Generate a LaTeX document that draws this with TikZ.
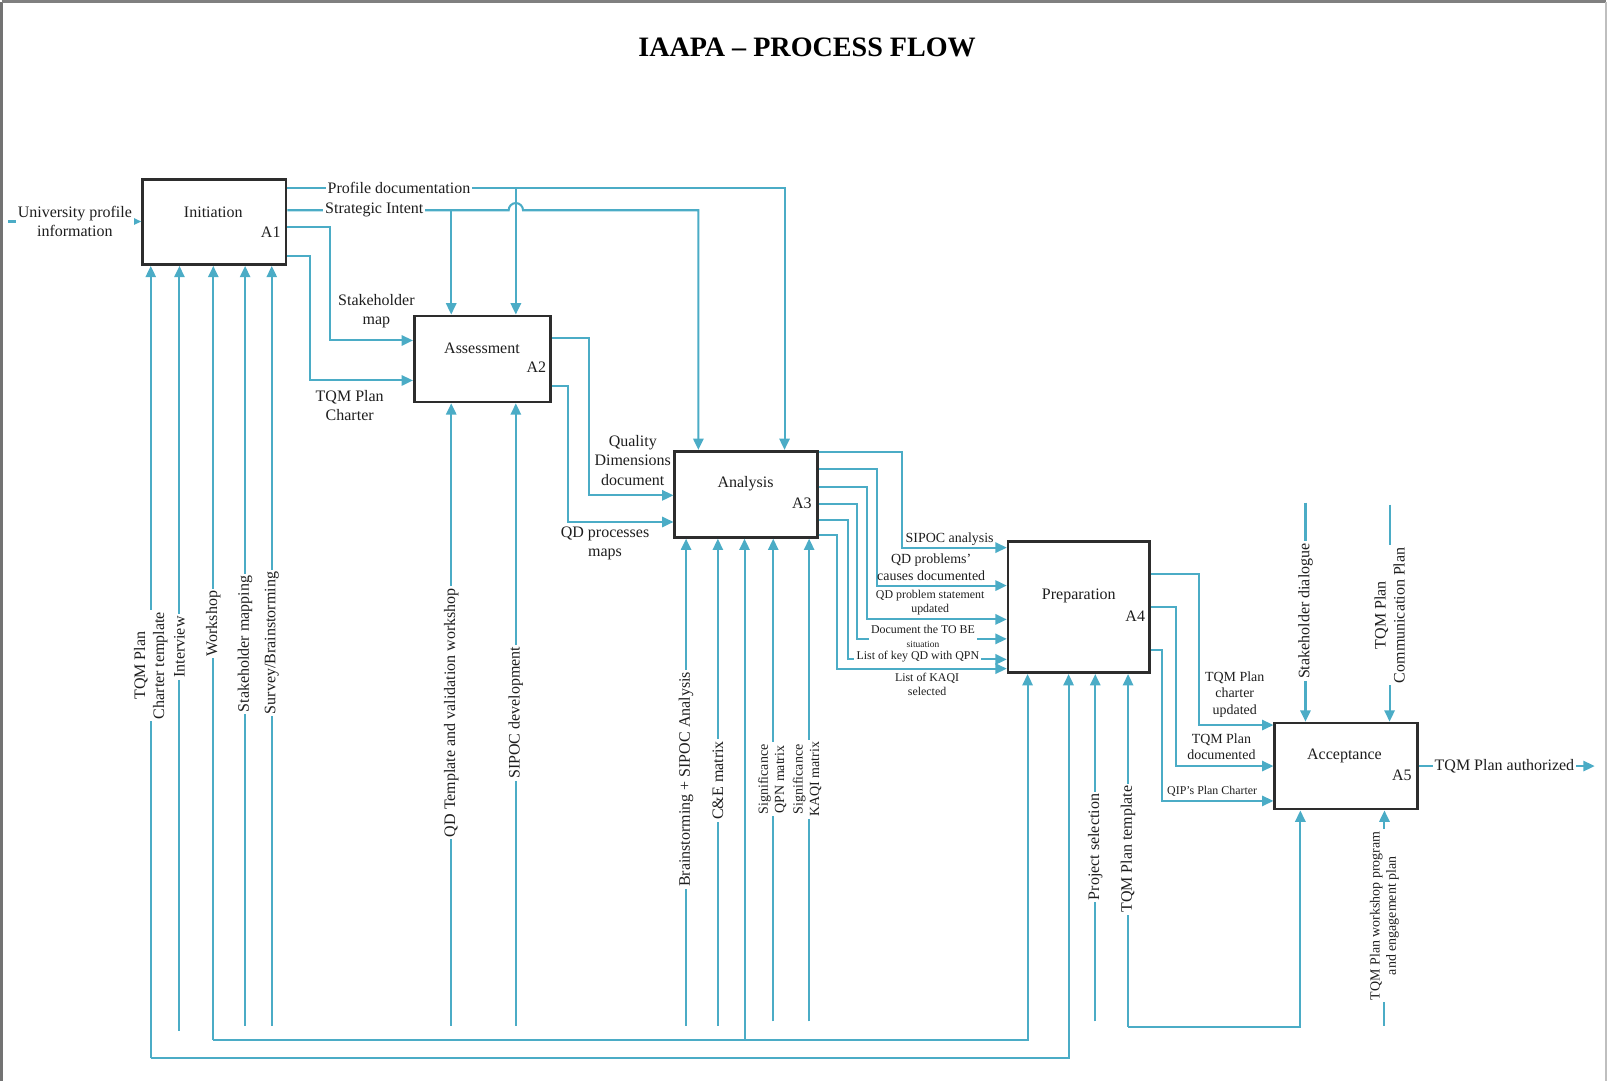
\documentclass[tikz,border=0pt]{standalone}
\usepackage{fontspec}
\setmainfont{Liberation Serif}
\usetikzlibrary{arrows.meta}
\definecolor{flowc}{RGB}{75,172,198}
\definecolor{boxc}{RGB}{45,45,45}
\definecolor{inkc}{RGB}{30,30,30}

\begin{document}
\begin{tikzpicture}[x=0.5pt,y=-0.5pt,
  flow/.style={draw=flowc, line width=1pt},
  arr/.style={flow, -{Triangle[width=5pt,length=5.5pt]}},
  proc/.style={draw=boxc, line width=1.3pt, fill=white, inner sep=0pt},
  txt/.style={text=inkc, align=center, inner sep=1pt, font=\fontsize{7.8}{9.3}\selectfont},
  ontxt/.style={txt, fill=white},
  small/.style={font=\fontsize{6.8}{8}\selectfont},
  tiny/.style={font=\fontsize{5.8}{6.8}\selectfont},
  vert/.style={rotate=90},
]
\useasboundingbox (0,0) rectangle (1568,1054);

% page frame
\draw[draw=black!55, line width=1.2pt] (1.5,1054) -- (1.5,1.5);
\draw[draw=black!50, line width=1.2pt] (1.5,1.5) -- (1566,1.5);
\draw[draw=black!25, line width=1pt] (1566,1.5) -- (1566,1054);

% title
\node[text=black, font=\fontsize{13.7}{15}\selectfont\bfseries] (title) at (787,46) {IAAPA – PROCESS FLOW};

% activity boxes
\node[proc, minimum width=70pt, minimum height=41.5pt] (a1) at (209,216.5) {};
\node[proc, minimum width=66.5pt, minimum height=42pt] (a2) at (470.5,350) {};
\node[proc, minimum width=69.5pt, minimum height=42pt] (a3) at (727.5,482) {};
\node[proc, minimum width=69pt, minimum height=64pt] (a4) at (1052,592) {};
\node[proc, minimum width=69.5pt, minimum height=42pt] (a5) at (1312.5,747) {};

\node[txt] (t1) at (208,207) {Initiation};   \node[txt] (n1) at (264,226) {A1};
\node[txt] (t2) at (470,340) {Assessment};   \node[txt] (n2) at (523,358) {A2};
\node[txt] (t3) at (727,472) {Analysis};     \node[txt] (n3) at (782,491) {A3};
\node[txt] (t4) at (1052,581) {Preparation}; \node[txt] (n4) at (1107,601) {A4};
\node[txt] (t5) at (1311,737) {Acceptance};  \node[txt] (n5) at (1367,756) {A5};

% ---------- A1 ----------
\coordinate (uin) at (8,216);
\draw[arr] (uin) -- (a1.west |- uin);

% outputs of A1
\coordinate (pd) at (503,183);
\draw[arr] (a1.east |- pd) -| (a3.north -| 765,0);
\draw[arr] (pd) -- (a2.north -| pd);

\coordinate (si) at (440,205);
\draw[arr] (a1.east |- si) -- (496,205) arc[start angle=180, end angle=0, radius=3.5pt]
  -- (681,205) -- (a3.north -| 681,0);
\draw[arr] (si) -- (a2.north -| si);

\draw[arr] (a1.east |- 0,221) -| (322,332) -- (a2.west |- 0,332);
\draw[arr] (a1.east |- 0,250) -| (302,371) -- (a2.west |- 0,371);

% mechanisms of A1
\coordinate (m-tpl) at (147,1032);
\draw[arr] (m-tpl) -- (a1.south -| m-tpl);
\draw[arr] (m-tpl) -| (a4.south -| 1042,0);

\coordinate (m-int) at (175,1005);
\draw[arr] (m-int) -- (a1.south -| m-int);

\coordinate (m-ws) at (208,1014);
\coordinate (m-ws3) at (726,1014);
\draw[arr] (m-ws) -- (a1.south -| m-ws);
\draw[arr] (m-ws) -| (a4.south -| 1002,0);
\draw[arr] (m-ws3) -- (a3.south -| m-ws3);

\coordinate (m-smap) at (239,1000);
\draw[arr] (m-smap) -- (a1.south -| m-smap);
\coordinate (m-sur) at (265,1000);
\draw[arr] (m-sur) -- (a1.south -| m-sur);

% ---------- A2 ----------
\coordinate (m-qdt) at (440,1000);
\draw[arr] (m-qdt) -- (a2.south -| m-qdt);
\coordinate (m-sip) at (503,1000);
\draw[arr] (m-sip) -- (a2.south -| m-sip);

\draw[arr] (a2.east |- 0,330) -| (574,483) -- (a3.west |- 0,483);
\draw[arr] (a2.east |- 0,376) -| (554,509) -- (a3.west |- 0,509);

% ---------- A3 ----------
\coordinate (m-bs) at (669,1000);
\draw[arr] (m-bs) -- (a3.south -| m-bs);
\coordinate (m-ce) at (700,1000);
\draw[arr] (m-ce) -- (a3.south -| m-ce);
\coordinate (m-qpn) at (754,996);
\draw[arr] (m-qpn) -- (a3.south -| m-qpn);
\coordinate (m-kaqi) at (789,996);
\draw[arr] (m-kaqi) -- (a3.south -| m-kaqi);

\draw[arr] (a3.east |- 0,441) -| (880,534) -- (a4.west |- 0,534);
\draw[arr] (a3.east |- 0,457) -| (855,571) -- (a4.west |- 0,571);
\draw[arr] (a3.east |- 0,475) -| (845,604) -- (a4.west |- 0,604);
\draw[arr] (a3.east |- 0,491) -| (836,623) -- (a4.west |- 0,623);
\draw[arr] (a3.east |- 0,507) -| (827,643) -- (a4.west |- 0,643);
\draw[arr] (a3.east |- 0,522) -| (816,652) -- (a4.west |- 0,652);

% ---------- A4 ----------
\coordinate (m-ps) at (1068,996);
\draw[arr] (m-ps) -- (a4.south -| m-ps);
\coordinate (m-tt) at (1100,1001);
\draw[arr] (m-tt) -- (a4.south -| m-tt);
\draw[arr] (m-tt) -| (a5.south -| 1268,0);

\draw[arr] (a4.east |- 0,560) -| (1169,707) -- (a5.west |- 0,707);
\draw[arr] (a4.east |- 0,592) -| (1147,747) -- (a5.west |- 0,747);
\draw[arr] (a4.east |- 0,634) -| (1133,781) -- (a5.west |- 0,781);

% ---------- A5 ----------
\coordinate (c-sd) at (1273,490);
\draw[arr] (c-sd) -- (a5.north -| c-sd);
\coordinate (c-cp) at (1355,492);
\draw[arr] (c-cp) -- (a5.north -| c-cp);
\coordinate (m-wp) at (1350,1000);
\draw[arr] (m-wp) -- (a5.south -| m-wp);
\coordinate (o-auth) at (1555,747);
\draw[arr] (a5.east |- o-auth) -- (o-auth);

% ---------- labels ----------
\node[ontxt] (l-uni) at (73,216) {University profile\\information};
\node[ontxt] (l-pd) at (389,183) {Profile documentation};
\node[ontxt] (l-si) at (365,205) {Strategic Intent};
\node[txt] (l-sm) at (367,303) {Stakeholder\\map};
\node[txt] (l-tpc) at (341,395) {TQM Plan\\Charter};

\node[ontxt, vert] (l-tpl) at (147,649) {TQM Plan\\Charter template};
\node[ontxt, vert] (l-int) at (175,631) {Interview};
\node[ontxt, vert] (l-ws) at (208,608) {Workshop};
\node[ontxt, vert] (l-smap) at (239,628) {Stakeholder mapping};
\node[ontxt, vert] (l-sur) at (265,627) {Survey/Brainstorming};

\node[ontxt, vert] (l-qdt) at (440,695) {QD Template and validation workshop};
\node[ontxt, vert] (l-sip) at (503,695) {SIPOC development};

\node[txt] (l-qdd) at (617,449) {Quality\\Dimensions\\document};
\node[txt] (l-qdp) at (590,530) {QD processes\\maps};

\node[ontxt, vert] (l-bs) at (669,760) {Brainstorming + SIPOC Analysis};
\node[ontxt, vert] (l-ce) at (700,761) {C\&E matrix};
\node[ontxt, vert, small] (l-qpn) at (753,760) {Significance\\QPN matrix};
\node[ontxt, vert, small] (l-kaqi) at (787,760) {Significance\\KAQI matrix};

\node[txt, small] (l-sipa) at (926,526) {SIPOC analysis};
\node[txt, small] (l-qdpc) at (908,553) {QD problems’\\causes documented};
\node[txt, tiny] (l-qdps) at (907,588) {QD problem statement\\updated};
\node[ontxt, tiny] (l-tobe) at (900,621) {Document the TO BE\\{\fontsize{4.6}{5}\selectfont situation}};
\node[ontxt, tiny] (l-kqd) at (895,640) {List of key QD with QPN};
\node[txt, tiny] (l-kaqs) at (904,667) {List of KAQI\\selected};

\node[ontxt, vert] (l-ps) at (1068,826) {Project selection};
\node[ontxt, vert] (l-tt) at (1100,828) {TQM Plan template};

\node[txt, small] (l-tcu) at (1204,677) {TQM Plan\\charter\\updated};
\node[txt, small] (l-td) at (1191,728) {TQM Plan\\documented};
\node[txt, tiny] (l-qip) at (1182,772) {QIP’s Plan Charter};

\node[ontxt, vert] (l-sd) at (1273,596) {Stakeholder dialogue};
\node[ontxt, vert] (l-cp) at (1355,600) {TQM Plan\\Communication Plan};
\node[ontxt, vert, small] (l-wp) at (1350,893) {TQM Plan workshop program\\and engagement plan};
\node[ontxt] (l-auth) at (1467,747) {TQM Plan authorized};
\end{tikzpicture}
\end{document}
